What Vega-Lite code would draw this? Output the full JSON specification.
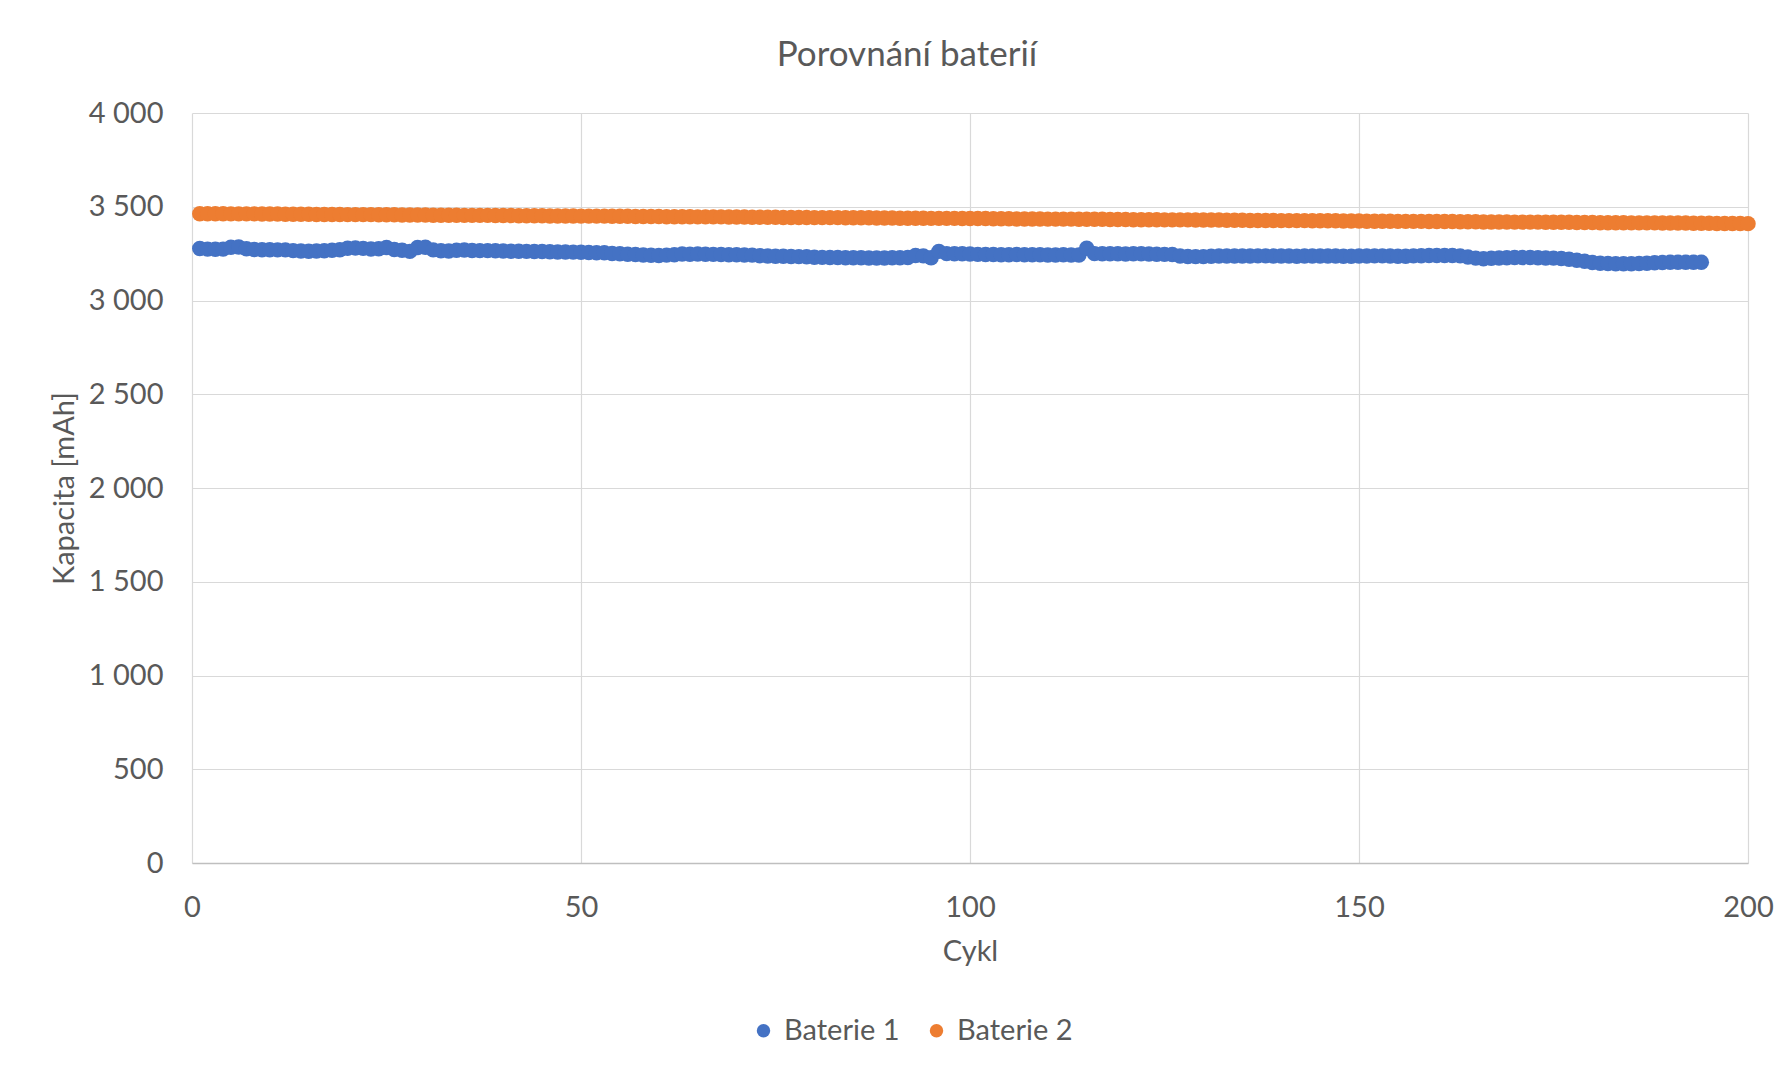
{
  "$schema": "https://vega.github.io/schema/vega-lite/v6.json",
  "autosize": {"type": "none"},
  "width": 1556,
  "height": 750,
  "padding": {"left": 192, "top": 113, "right": 36, "bottom": 204},
  "background": "white",
  "title": {"text": "Porovnání baterií", "font": "Lato", "fontSize": 35, "fontWeight": "normal", "color": "#595959", "anchor": "middle", "dx": -63, "offset": 26},
  "data": {"values": [
    {"c":1,"b1":3277,"b2":3463},{"c":2,"b1":3274,"b2":3463},{"c":3,"b1":3273,"b2":3463},{"c":4,"b1":3274,"b2":3463},{"c":5,"b1":3284,"b2":3462},
    {"c":6,"b1":3285,"b2":3462},{"c":7,"b1":3276,"b2":3462},{"c":8,"b1":3272,"b2":3462},{"c":9,"b1":3271,"b2":3461},{"c":10,"b1":3271,"b2":3461},
    {"c":11,"b1":3270,"b2":3461},{"c":12,"b1":3270,"b2":3460},{"c":13,"b1":3266,"b2":3460},{"c":14,"b1":3264,"b2":3460},{"c":15,"b1":3263,"b2":3460},
    {"c":16,"b1":3264,"b2":3459},{"c":17,"b1":3265,"b2":3459},{"c":18,"b1":3268,"b2":3459},{"c":19,"b1":3271,"b2":3459},{"c":20,"b1":3279,"b2":3458},
    {"c":21,"b1":3280,"b2":3458},{"c":22,"b1":3278,"b2":3458},{"c":23,"b1":3275,"b2":3458},{"c":24,"b1":3276,"b2":3457},{"c":25,"b1":3283,"b2":3457},
    {"c":26,"b1":3272,"b2":3457},{"c":27,"b1":3268,"b2":3456},{"c":28,"b1":3262,"b2":3456},{"c":29,"b1":3283,"b2":3456},{"c":30,"b1":3284,"b2":3456},
    {"c":31,"b1":3270,"b2":3455},{"c":32,"b1":3265,"b2":3455},{"c":33,"b1":3264,"b2":3455},{"c":34,"b1":3268,"b2":3455},{"c":35,"b1":3269,"b2":3454},
    {"c":36,"b1":3267,"b2":3454},{"c":37,"b1":3266,"b2":3454},{"c":38,"b1":3266,"b2":3454},{"c":39,"b1":3265,"b2":3453},{"c":40,"b1":3264,"b2":3453},
    {"c":41,"b1":3263,"b2":3453},{"c":42,"b1":3263,"b2":3452},{"c":43,"b1":3262,"b2":3452},{"c":44,"b1":3261,"b2":3452},{"c":45,"b1":3261,"b2":3452},
    {"c":46,"b1":3260,"b2":3451},{"c":47,"b1":3259,"b2":3451},{"c":48,"b1":3259,"b2":3451},{"c":49,"b1":3258,"b2":3451},{"c":50,"b1":3257,"b2":3450},
    {"c":51,"b1":3256,"b2":3450},{"c":52,"b1":3255,"b2":3450},{"c":53,"b1":3255,"b2":3450},{"c":54,"b1":3251,"b2":3449},{"c":55,"b1":3249,"b2":3449},
    {"c":56,"b1":3247,"b2":3449},{"c":57,"b1":3245,"b2":3448},{"c":58,"b1":3243,"b2":3448},{"c":59,"b1":3241,"b2":3448},{"c":60,"b1":3240,"b2":3448},
    {"c":61,"b1":3242,"b2":3447},{"c":62,"b1":3244,"b2":3447},{"c":63,"b1":3248,"b2":3447},{"c":64,"b1":3247,"b2":3447},{"c":65,"b1":3248,"b2":3446},
    {"c":66,"b1":3247,"b2":3446},{"c":67,"b1":3246,"b2":3446},{"c":68,"b1":3245,"b2":3446},{"c":69,"b1":3244,"b2":3445},{"c":70,"b1":3244,"b2":3445},
    {"c":71,"b1":3243,"b2":3445},{"c":72,"b1":3242,"b2":3444},{"c":73,"b1":3239,"b2":3444},{"c":74,"b1":3237,"b2":3444},{"c":75,"b1":3236,"b2":3444},
    {"c":76,"b1":3236,"b2":3443},{"c":77,"b1":3235,"b2":3443},{"c":78,"b1":3234,"b2":3443},{"c":79,"b1":3233,"b2":3443},{"c":80,"b1":3231,"b2":3442},
    {"c":81,"b1":3230,"b2":3442},{"c":82,"b1":3229,"b2":3442},{"c":83,"b1":3229,"b2":3442},{"c":84,"b1":3228,"b2":3441},{"c":85,"b1":3228,"b2":3441},
    {"c":86,"b1":3228,"b2":3441},{"c":87,"b1":3227,"b2":3441},{"c":88,"b1":3227,"b2":3440},{"c":89,"b1":3227,"b2":3440},{"c":90,"b1":3228,"b2":3440},
    {"c":91,"b1":3228,"b2":3439},{"c":92,"b1":3229,"b2":3439},{"c":93,"b1":3240,"b2":3439},{"c":94,"b1":3238,"b2":3439},{"c":95,"b1":3228,"b2":3438},
    {"c":96,"b1":3262,"b2":3438},{"c":97,"b1":3250,"b2":3438},{"c":98,"b1":3249,"b2":3438},{"c":99,"b1":3249,"b2":3437},{"c":100,"b1":3248,"b2":3437},
    {"c":101,"b1":3246,"b2":3437},{"c":102,"b1":3245,"b2":3437},{"c":103,"b1":3245,"b2":3436},{"c":104,"b1":3244,"b2":3436},{"c":105,"b1":3244,"b2":3436},
    {"c":106,"b1":3245,"b2":3435},{"c":107,"b1":3244,"b2":3435},{"c":108,"b1":3244,"b2":3435},{"c":109,"b1":3244,"b2":3435},{"c":110,"b1":3243,"b2":3434},
    {"c":111,"b1":3243,"b2":3434},{"c":112,"b1":3244,"b2":3434},{"c":113,"b1":3243,"b2":3434},{"c":114,"b1":3243,"b2":3433},{"c":115,"b1":3279,"b2":3433},
    {"c":116,"b1":3250,"b2":3433},{"c":117,"b1":3249,"b2":3433},{"c":118,"b1":3249,"b2":3432},{"c":119,"b1":3249,"b2":3432},{"c":120,"b1":3248,"b2":3432},
    {"c":121,"b1":3249,"b2":3431},{"c":122,"b1":3249,"b2":3431},{"c":123,"b1":3248,"b2":3431},{"c":124,"b1":3247,"b2":3431},{"c":125,"b1":3246,"b2":3430},
    {"c":126,"b1":3245,"b2":3430},{"c":127,"b1":3237,"b2":3430},{"c":128,"b1":3235,"b2":3430},{"c":129,"b1":3234,"b2":3429},{"c":130,"b1":3234,"b2":3429},
    {"c":131,"b1":3236,"b2":3429},{"c":132,"b1":3237,"b2":3429},{"c":133,"b1":3237,"b2":3428},{"c":134,"b1":3237,"b2":3428},{"c":135,"b1":3237,"b2":3428},
    {"c":136,"b1":3237,"b2":3427},{"c":137,"b1":3238,"b2":3427},{"c":138,"b1":3238,"b2":3427},{"c":139,"b1":3237,"b2":3427},{"c":140,"b1":3237,"b2":3426},
    {"c":141,"b1":3237,"b2":3426},{"c":142,"b1":3236,"b2":3426},{"c":143,"b1":3237,"b2":3426},{"c":144,"b1":3237,"b2":3425},{"c":145,"b1":3237,"b2":3425},
    {"c":146,"b1":3237,"b2":3425},{"c":147,"b1":3237,"b2":3425},{"c":148,"b1":3236,"b2":3424},{"c":149,"b1":3236,"b2":3424},{"c":150,"b1":3237,"b2":3424},
    {"c":151,"b1":3237,"b2":3423},{"c":152,"b1":3238,"b2":3423},{"c":153,"b1":3238,"b2":3423},{"c":154,"b1":3237,"b2":3423},{"c":155,"b1":3236,"b2":3422},
    {"c":156,"b1":3236,"b2":3422},{"c":157,"b1":3238,"b2":3422},{"c":158,"b1":3239,"b2":3422},{"c":159,"b1":3240,"b2":3421},{"c":160,"b1":3240,"b2":3421},
    {"c":161,"b1":3240,"b2":3421},{"c":162,"b1":3240,"b2":3421},{"c":163,"b1":3238,"b2":3420},{"c":164,"b1":3232,"b2":3420},{"c":165,"b1":3226,"b2":3420},
    {"c":166,"b1":3223,"b2":3419},{"c":167,"b1":3225,"b2":3419},{"c":168,"b1":3227,"b2":3419},{"c":169,"b1":3228,"b2":3419},{"c":170,"b1":3229,"b2":3418},
    {"c":171,"b1":3229,"b2":3418},{"c":172,"b1":3229,"b2":3418},{"c":173,"b1":3228,"b2":3418},{"c":174,"b1":3227,"b2":3417},{"c":175,"b1":3226,"b2":3417},
    {"c":176,"b1":3224,"b2":3417},{"c":177,"b1":3220,"b2":3417},{"c":178,"b1":3215,"b2":3416},{"c":179,"b1":3209,"b2":3416},{"c":180,"b1":3203,"b2":3416},
    {"c":181,"b1":3199,"b2":3415},{"c":182,"b1":3197,"b2":3415},{"c":183,"b1":3196,"b2":3415},{"c":184,"b1":3196,"b2":3415},{"c":185,"b1":3196,"b2":3414},
    {"c":186,"b1":3197,"b2":3414},{"c":187,"b1":3199,"b2":3414},{"c":188,"b1":3201,"b2":3414},{"c":189,"b1":3203,"b2":3413},{"c":190,"b1":3204,"b2":3413},
    {"c":191,"b1":3204,"b2":3413},{"c":192,"b1":3204,"b2":3413},{"c":193,"b1":3204,"b2":3412},{"c":194,"b1":3204,"b2":3412},{"c":195,"b2":3412},
    {"c":196,"b2":3411},{"c":197,"b2":3411},{"c":198,"b2":3411},{"c":199,"b2":3411},{"c":200,"b2":3410}
  ]},
  "transform": [
    {"fold": ["b1", "b2"], "as": ["serie", "kap"]},
    {"filter": "isValid(datum.kap)"}
  ],
  "mark": {"type": "point", "filled": true, "size": 240, "opacity": 1, "strokeWidth": 0},
  "encoding": {
    "x": {"field": "c", "type": "quantitative", "title": "Cykl",
      "scale": {"domain": [0, 200], "nice": false, "zero": false},
      "axis": {"values": [0, 50, 100, 150, 200], "labelFlush": false, "labelPadding": 30, "titlePadding": 15, "domain": true, "domainColor": "#bfbfbf", "domainWidth": 1.5}},
    "y": {"field": "kap", "type": "quantitative", "title": "Kapacita [mAh]",
      "scale": {"domain": [0, 4000], "nice": false},
      "axis": {"values": [0, 500, 1000, 1500, 2000, 2500, 3000, 3500, 4000], "labelPadding": 29, "titlePadding": 9, "domain": false,
        "labelExpr": "replace(format(datum.value, ','), ',', ' ')"}},
    "color": {"field": "serie", "type": "nominal",
      "scale": {"domain": ["b1", "b2"], "range": ["#4472C4", "#ED7D31"]},
      "legend": {"title": null, "orient": "none", "direction": "horizontal", "legendX": 557, "legendY": 903,
        "labelExpr": "datum.label == 'b1' ? 'Baterie 1' : 'Baterie 2'",
        "symbolType": "circle", "symbolSize": 180, "symbolStrokeWidth": 0, "labelFontSize": 29, "labelFont": "Lato", "labelColor": "#595959", "columnPadding": 22, "symbolOffset": 0, "labelOffset": 6}}
  },
  "config": {
    "view": {"stroke": null},
    "axis": {"grid": true, "gridColor": "#d9d9d9", "gridWidth": 1.2, "ticks": false, "tickSize": 0,
      "labelFont": "Lato", "labelFontSize": 29, "labelColor": "#595959",
      "titleFont": "Lato", "titleFontSize": 29, "titleFontWeight": "normal", "titleColor": "#595959"}
  }
}
